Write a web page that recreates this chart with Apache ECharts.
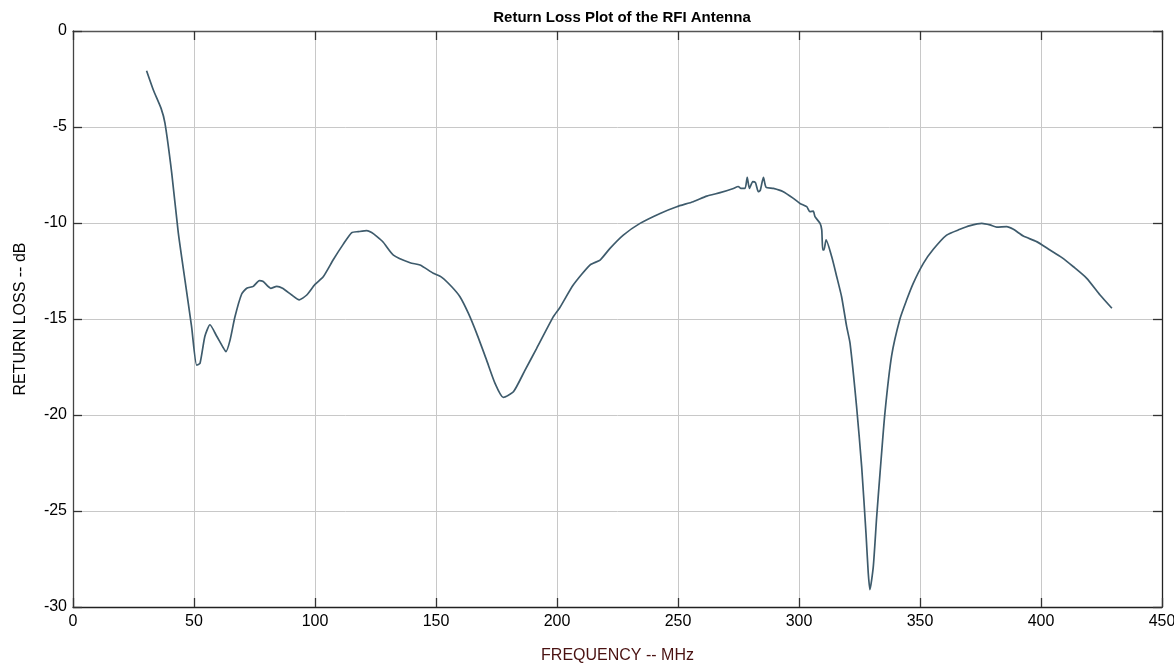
<!DOCTYPE html>
<html>
<head>
<meta charset="utf-8">
<title>Return Loss Plot of the RFI Antenna</title>
<script src="https://cdn.jsdelivr.net/npm/echarts@6/dist/echarts.min.js"></script>
<style>
  html, body { margin: 0; padding: 0; background: #fff; }
  #chart { width: 1174px; height: 666px; }
</style>
</head>
<body>
<div id="chart"></div>
<script>
// frequency (MHz) and return loss (dB)
var freq = [
  30.4, 33.2, 36.4, 38.0, 40.8, 43.5, 46.3, 49.0, 51.1, 52.5,
  54.5, 56.6, 59.4, 62.1, 63.2, 64.9, 66.9, 69.7, 71.8, 74.5,
  77.0, 78.6, 81.7, 84.2, 86.6, 90.4, 93.5, 96.6, 100.0, 103.4,
  107.6, 111.7, 115.2, 117.9, 121.4, 123.4, 125.5, 128.2, 132.4, 139.3,
  143.4, 148.9, 152.4, 156.5, 159.9, 163.4, 166.8, 170.9, 174.4, 177.8,
  182.0, 186.8, 191.6, 198.5, 201.2, 206.7, 213.6, 217.8, 221.9, 227.4,
  234.3, 242.6, 249.5, 256.3, 261.9, 267.4, 272.9, 274.9, 276.0, 277.7,
  278.6, 279.5, 280.9, 282.0, 283.2, 284.0, 285.3, 286.4, 289.4, 293.5,
  297.7, 300.4, 303.2, 304.5, 305.9, 306.6, 308.7, 309.4, 309.8, 310.3,
  311.2, 313.5, 315.6, 317.6, 319.7, 321.1, 323.8, 325.9, 327.7, 328.6,
  329.3, 330.7, 332.1, 333.5, 335.5, 338.3, 341.7, 344.5, 347.2, 351.4,
  355.5, 361.0, 366.5, 370.7, 375.5, 378.9, 381.7, 385.8, 388.6, 392.7,
  398.2, 403.7, 408.5, 413.4, 418.9, 424.4, 429.3
];
var returnLoss = [
  -2.07, -3.07, -4.03, -4.8, -7.4, -10.5, -13.0, -15.4, -17.4, -17.3,
  -15.9, -15.3, -15.9, -16.5, -16.7, -16.1, -14.9, -13.7, -13.4, -13.3,
  -13.0, -13.05, -13.4, -13.3, -13.4, -13.75, -14.0, -13.75, -13.2, -12.8,
  -11.9, -11.1, -10.5, -10.45, -10.4, -10.5, -10.7, -11.0, -11.67, -12.07,
  -12.19, -12.62, -12.83, -13.32, -13.84, -14.71, -15.75, -17.14, -18.35, -19.08,
  -18.79, -17.66, -16.53, -14.88, -14.4, -13.23, -12.19, -11.93, -11.32, -10.63,
  -10.02, -9.5, -9.15, -8.89, -8.6, -8.42, -8.2, -8.1, -8.2, -8.2,
  -7.62, -8.2, -7.85, -7.9, -8.37, -8.3, -7.62, -8.14, -8.2, -8.37,
  -8.72, -8.98, -9.15, -9.41, -9.38, -9.67, -10.02, -10.36, -11.4, -11.4,
  -10.88, -11.75, -12.8, -13.84, -15.4, -16.27, -19.57, -22.7, -26.2, -28.2,
  -29.1, -27.9, -25.3, -23.0, -19.9, -16.9, -15.0, -14.0, -13.14, -12.1,
  -11.37, -10.63, -10.33, -10.14, -10.02, -10.1, -10.22, -10.19, -10.33, -10.68,
  -10.97, -11.41, -11.79, -12.28, -12.88, -13.75, -14.44
];
var xTicks = { min: 0, max: 450, interval: 50 };
var yTicks = { min: -30, max: 0, interval: 5 };

var chart = echarts.init(document.getElementById('chart'));

var font = '"Liberation Sans", Arial, sans-serif';

// frame sides are axis lines; keep them on the grid edge, not at zero
function frameLine(color) {
  return { show: true, onZero: false, lineStyle: { color: color, width: 1.3 } };
}
var tick = { show: true, inside: true, length: 9, lineStyle: { color: '#333', width: 1.3 } };
var grid = { show: true, lineStyle: { color: '#c8c8c8', width: 1 } };

chart.setOption({
  animation: false,
  backgroundColor: '#fff',
  title: {
    text: 'Return Loss Plot of the RFI Antenna',
    left: 617,
    textAlign: 'center',
    top: 5,
    textStyle: { fontFamily: font, fontSize: 15, fontWeight: 'bold', color: '#000' }
  },
  // fixed plot box, the "450" label may hang off the right edge like the original
  grid: { left: 73, right: 12, top: 31, bottom: 59, outerBoundsMode: 'none', containLabel: false },
  xAxis: [{
    type: 'value',
    position: 'bottom',
    min: xTicks.min,
    max: xTicks.max,
    interval: xTicks.interval,
    axisLine: frameLine('#222'),
    axisTick: tick,
    splitLine: grid,
    axisLabel: { fontFamily: font, fontSize: 16, color: '#000', margin: 7 },
    name: 'FREQUENCY -- MHz',
    nameLocation: 'middle',
    nameGap: 41,
    nameTextStyle: { fontFamily: font, fontSize: 16, color: '#4a1212' }
  }, {
    type: 'value',
    position: 'top',
    min: xTicks.min,
    max: xTicks.max,
    interval: xTicks.interval,
    axisLine: frameLine('#555'),
    axisTick: tick,
    splitLine: { show: false },
    axisLabel: { show: false }
  }],
  yAxis: [{
    type: 'value',
    position: 'left',
    min: yTicks.min,
    max: yTicks.max,
    interval: yTicks.interval,
    axisLine: frameLine('#444'),
    axisTick: tick,
    splitLine: grid,
    axisLabel: { fontFamily: font, fontSize: 16, color: '#000', margin: 6 },
    name: 'RETURN LOSS -- dB',
    nameLocation: 'middle',
    nameGap: 44,
    nameTextStyle: { fontFamily: font, fontSize: 16, color: '#000' }
  }, {
    type: 'value',
    position: 'right',
    min: yTicks.min,
    max: yTicks.max,
    interval: yTicks.interval,
    axisLine: frameLine('#222'),
    axisTick: tick,
    splitLine: { show: false },
    axisLabel: { show: false }
  }],
  series: [{
    type: 'line',
    data: freq.map(function(f, i) { return [f, returnLoss[i]] }),
    showSymbol: false,
    smooth: 0.2,
    lineStyle: { color: '#3e5b6c', width: 1.7 }
  }]
});
</script>
</body>
</html>
